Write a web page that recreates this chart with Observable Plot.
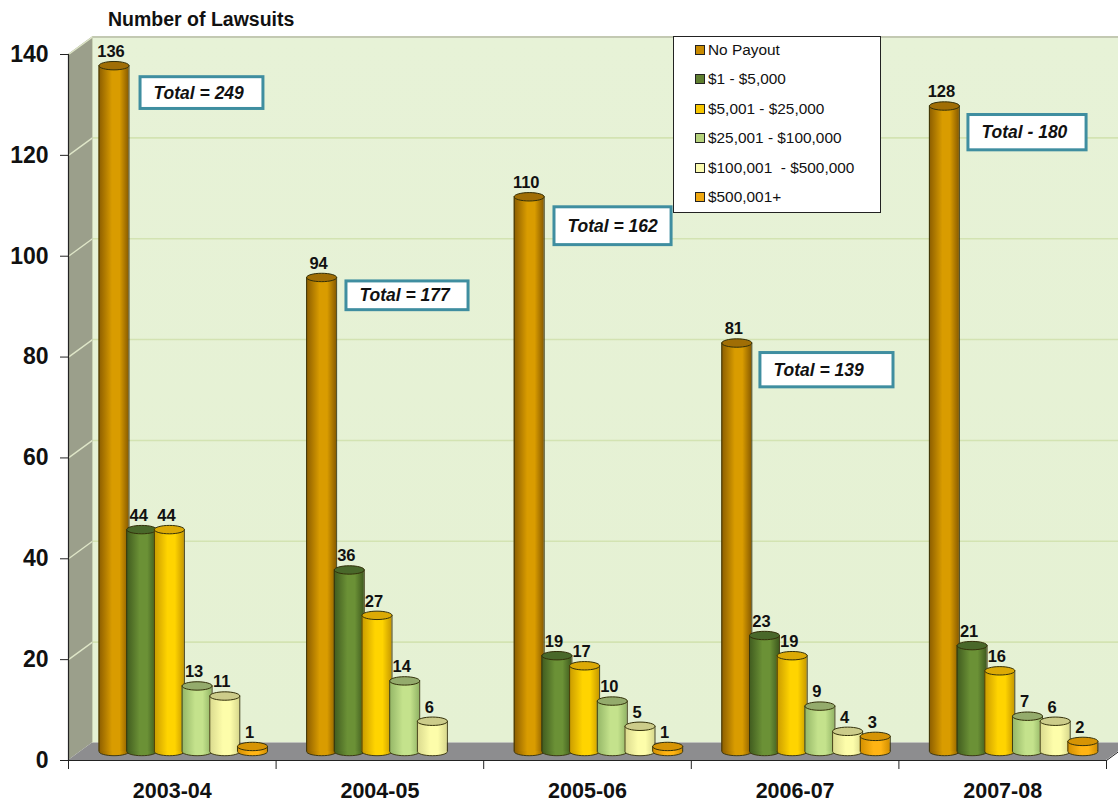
<!DOCTYPE html>
<html>
<head>
<meta charset="utf-8">
<script src="https://cdn.jsdelivr.net/npm/d3@7"></script>
<script src="https://cdn.jsdelivr.net/npm/@observablehq/plot@0.6"></script>
<style>
html,body{margin:0;padding:0;background:#fff;}
#wrap{position:relative;width:1118px;height:803px;overflow:hidden;font-family:"Liberation Sans",Arial,sans-serif;}
#title{position:absolute;left:108px;top:9px;font-size:19.5px;font-weight:700;color:#111;line-height:21px;}
#legend{position:absolute;left:673px;top:36px;width:206px;height:175px;background:#fff;border:1px solid #222;}
#legend div{position:absolute;left:21px;height:20px;line-height:20px;font-size:15.4px;color:#111;white-space:pre;padding-left:13px;}
#legend i{position:absolute;left:0;top:5px;width:8px;height:8px;border:1.5px solid #222;}
svg{display:block;}
</style>
</head>
<body>
<div id="wrap">
<div id="chart"></div>
<div id="title">Number of Lawsuits</div>
<div id="legend"></div>
</div>
<script>
const seasons = ["2003-04","2004-05","2005-06","2006-07","2007-08"];
const seriesNames = ["No Payout","$1 - $5,000","$5,001 - $25,000","$25,001 - $100,000","$100,001  - $500,000","$500,001+"];
const noPayout = [136,94,110,81,128];
const tier1 = [44,36,19,23,21];
const tier2 = [44,27,17,19,16];
const tier3 = [13,14,10,9,7];
const tier4 = [11,6,5,4,6];
const tier5 = [1,0,1,3,2];
const allSeries = [noPayout,tier1,tier2,tier3,tier4,tier5];
const yTicks = [0,20,40,60,80,100,120,140];
const xTicks = [0,1,2,3,4,5];

const totalLabels = ["Total = 249","Total = 177","Total = 162","Total = 139","Total - 180"];
const totalLeft = [0.347,1.339,2.341,3.333,4.335];
const totalRight = [0.939,1.927,2.905,3.974,4.904];
const totalTop = [135.5,95,109.7,80.8,128];
const totalBottom = [129.2,89.3,102.2,74,121];

const edgeColors = ["#8a5c00","#3f5a1e","#c89a00","#93b566","#d9d98e","#d28f00"];
const midColors = ["#d99c00","#6b9136","#ffd400","#c4e28c","#fdfdaa","#ffb414"];
const topColors = ["#a06e05","#49682a","#dcaa05","#94ab6c","#cccc8a","#d69405"];
const swatchColors = ["#c88a00","#5f7f30","#f7c600","#b5d27c","#fbfbb0","#f0a810"];

const depthX = 0.1156, depthY = 3.47;   // the receding depth of the 3D box, in scale units
const start = 0.147, pitch = 0.1334, barW = 0.1445, lift = -9;

const rows = allSeries.flatMap((vals,s) => vals.map((value,g) => ({
  s, g, value, season: seasons[g],
  x1: g + start + s*pitch,
  x2: g + start + s*pitch + barW,
  xm: g + start + s*pitch + barW/2
}))).filter(d => d.value > 0);

const totals = totalLabels.map((label,i)=>({label,x1:totalLeft[i],x2:totalRight[i],y1:totalBottom[i],y2:totalTop[i]}));

const ellipse = {draw(c){
  const rx=15, ry=4.2, k=0.5523;
  c.moveTo(-rx,0);
  c.bezierCurveTo(-rx,-ry*k,-rx*k,-ry,0,-ry);
  c.bezierCurveTo(rx*k,-ry,rx,-ry*k,rx,0);
  c.bezierCurveTo(rx,ry*k,rx*k,ry,0,ry);
  c.bezierCurveTo(-rx*k,ry,-rx,ry*k,-rx,0);
  c.closePath();
}};

function gradients(){
  const defs = d3.create("svg:defs");
  edgeColors.forEach((e,i)=>{
    const g = defs.append("linearGradient").attr("id","bar"+i).attr("x1",0).attr("x2",1).attr("y1",0).attr("y2",0);
    [[0,e],[.45,midColors[i]],[.7,midColors[i]],[1,e]].forEach(([o,c])=>g.append("stop").attr("offset",o).attr("stop-color",c));
  });
  const w = defs.append("linearGradient").attr("id","wall").attr("x1",0).attr("x2",0).attr("y1",0).attr("y2",1);
  [[0,"#e7f2d7"],[1,"#e5f1d3"]].forEach(([o,c])=>w.append("stop").attr("offset",o).attr("stop-color",c));
  return defs.node();
}

const barMarks = allSeries.flatMap((_,s)=>{
  const d = rows.filter(r=>r.s===s);
  const base = {dy:lift};
  return [
    Plot.dot(d,{x:"xm",y:()=>0,symbol:ellipse,fill:`url(#bar${s})`,stroke:"#33300a",strokeWidth:.9,...base}),
    Plot.rect(d,{x1:"x1",x2:"x2",y1:()=>0,y2:"value",fill:`url(#bar${s})`,...base}),
    Plot.ruleX(d,{x:"x1",y1:()=>0,y2:"value",stroke:"#33300a",strokeWidth:.9,...base}),
    Plot.ruleX(d,{x:"x2",y1:()=>0,y2:"value",stroke:"#33300a",strokeWidth:.9,...base}),
    Plot.dot(d,{x:"xm",y:"value",symbol:ellipse,fill:topColors[s],stroke:"#33300a",strokeWidth:1,...base})
  ];
});

const sideGrid = yTicks.filter(t=>t>0);

const chart = Plot.plot({
  width:1118, height:803,
  marginLeft:68, marginRight:12, marginTop:54, marginBottom:43,
  style:{background:"#fff",fontFamily:'"Liberation Sans",Arial,sans-serif',overflow:"hidden"},
  x:{domain:[0,5],axis:null},
  y:{domain:[0,140],axis:null},
  marks:[
    gradients,
    // back wall
    Plot.rect([0],{x1:()=>depthX,x2:()=>5+depthX,y1:()=>depthY,y2:()=>140+depthY,fill:"url(#wall)"}),
    Plot.ruleY([140+depthY],{x1:()=>depthX,x2:()=>5+depthX,stroke:"#c3c9b2",strokeWidth:2}),
    Plot.ruleY(sideGrid.filter(t=>t<140),{y:d=>d+depthY,x1:()=>depthX,x2:()=>5+depthX,stroke:"#d3e3b2",strokeWidth:1.6}),
    // side wall
    Plot.areaY([{x:0,y1:0,y2:140},{x:depthX,y1:depthY,y2:140+depthY}],{x:"x",y1:"y1",y2:"y2",fill:"#9b9f8b"}),
    Plot.link(sideGrid,{x1:()=>0,x2:()=>depthX,y1:d=>d,y2:d=>d+depthY,stroke:"#dfe6c8",strokeWidth:1.4}),
    Plot.link([0],{x1:()=>0,x2:()=>depthX,y1:()=>0,y2:()=>depthY,stroke:"#dfe6c8",strokeWidth:1.2,strokeDasharray:"4 3"}),
    // floor
    Plot.areaX([{y:0,x1:0,x2:5},{y:depthY,x1:depthX,x2:5+depthX}],{y:"y",x1:"x1",x2:"x2",fill:"#8d8d8f"}),
    Plot.ruleX([depthX],{y1:()=>depthY,y2:()=>140+depthY,stroke:"#c9d2b4",strokeWidth:1}),
    Plot.link([5],{x1:()=>5,x2:()=>5+depthX,y1:()=>0,y2:()=>depthY,stroke:"#222",strokeWidth:1}),
    // axes
    Plot.axisX({ticks:xTicks,tickFormat:()=>"",tickSize:9,stroke:"#222",label:null}),
    Plot.ruleY([0],{stroke:"#222",strokeWidth:1.2}),
    Plot.ruleX([0],{y1:()=>0,y2:()=>140,stroke:"#222",strokeWidth:1.2}),
    Plot.axisY({ticks:yTicks,tickSize:8,tickPadding:12,fontSize:23,fontWeight:700,fill:"#111",stroke:"#222",label:null}),
    Plot.text(seasons,{x:(d,i)=>i+.5,y:()=>0,dy:31,text:d=>d,fontSize:21.5,fontWeight:700,fill:"#111"}),
    // bars
    ...barMarks,
    Plot.text(rows,{x:"xm",y:"value",text:d=>String(d.value),dx:-3,dy:lift-14,fontSize:16.5,fontWeight:700,fill:"#111"}),
    // total boxes
    Plot.rect(totals,{x1:"x1",x2:"x2",y1:"y1",y2:"y2",fill:"#fff",stroke:"#3f8ea0",strokeWidth:3}),
    Plot.text(totals,{x:"x1",y:d=>(d.y1+d.y2)/2,text:"label",dx:13,textAnchor:"start",fontSize:17.5,fontWeight:700,fontStyle:"italic",fill:"#111"})
  ]
});
document.getElementById("chart").appendChild(chart);

const legend = document.getElementById("legend");
seriesNames.forEach((n,i)=>{
  const row = document.createElement("div");
  row.style.top = (3 + i*29.4) + "px";
  row.textContent = n;
  const sw = document.createElement("i");
  sw.style.background = swatchColors[i];
  row.appendChild(sw);
  legend.appendChild(row);
});
</script>
</body>
</html>
